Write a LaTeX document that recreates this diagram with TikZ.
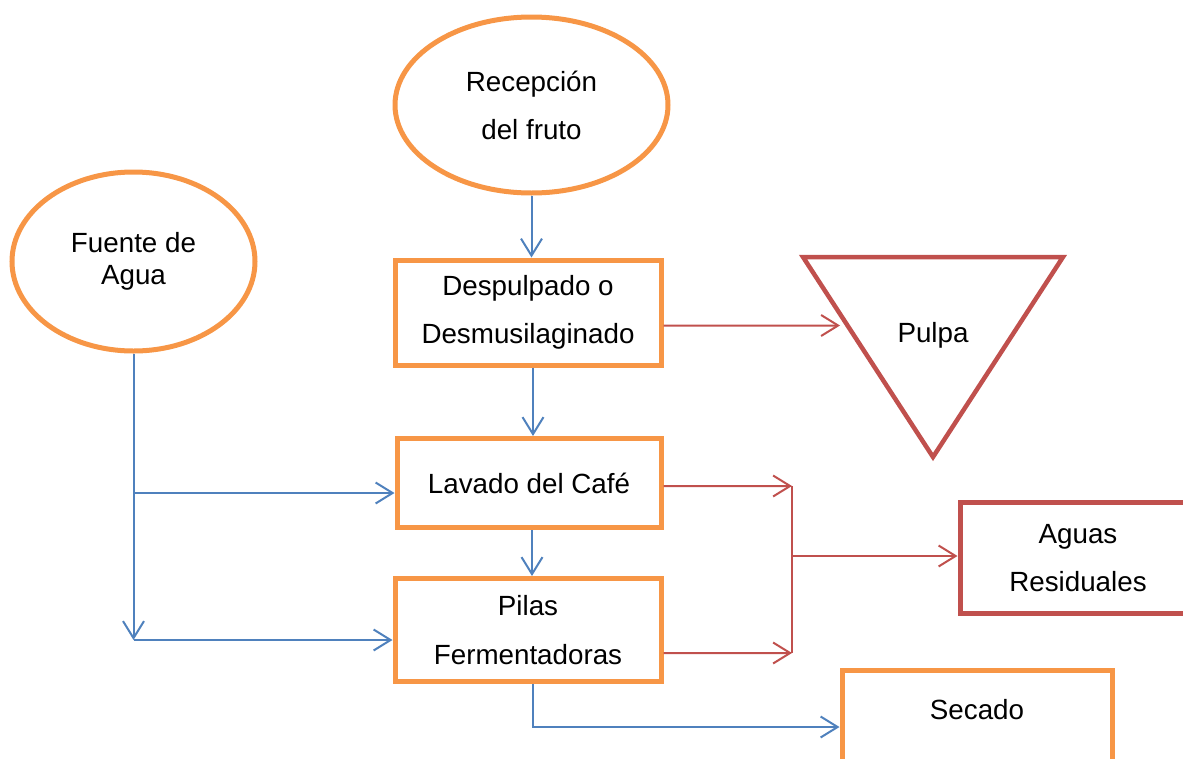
\documentclass[tikz,border=0pt]{standalone}
\usepackage{fontspec}
\setmainfont{Liberation Sans}
\usepackage{tikz}
\usetikzlibrary{shapes.geometric,arrows.meta}
\definecolor{naranja}{HTML}{F79646}
\definecolor{rojo}{HTML}{C0504D}
\definecolor{azul}{HTML}{4F81BD}
\tikzstyle{ovalo} = [ellipse,draw=naranja,line width=0.1cm,fill=white,inner sep=0pt,text centered,align=center]
\tikzstyle{caja} = [rectangle,draw=naranja,line width=0.1cm,fill=white,inner sep=0pt,text centered,align=center]
\tikzstyle{cajaroja} = [rectangle,draw=rojo,line width=0.1cm,fill=white,inner sep=0pt,text centered,align=center]
\tikzstyle{flechaazul} = [azul,line width=0.04cm,->,>={Straight Barb[length=0.34cm,width=0.42cm]}]
\tikzstyle{flecharoja} = [rojo,line width=0.04cm,->,>={Straight Barb[length=0.34cm,width=0.42cm]}]
\tikzstyle{linearoja} = [rojo,line width=0.04cm]

\begin{document}
\begin{tikzpicture}
\tikzstyle{every node}=[font=\fontsize{15.8}{27.4}\selectfont]
\clip (0,0) rectangle (23.66,-15.18);

\node (recepcion) [ovalo,minimum width=5.46cm,minimum height=3.52cm] at (10.63,-2.10) {Recepción\\del fruto};
\node (fuente) [ovalo,minimum width=4.86cm,minimum height=3.58cm,left of=recepcion,xshift=-6.96cm,yshift=-3.13cm,font=\fontsize{15.8}{18.2}\selectfont] {Fuente de\\Agua};

\node (despulpado) [caja,minimum width=5.32cm,minimum height=2.10cm,below of=recepcion,yshift=-3.15cm,xshift=-0.07cm] {Despulpado o\\Desmusilaginado};
\node (lavado) [caja,minimum width=5.28cm,minimum height=1.78cm,below of=despulpado,yshift=-2.41cm,xshift=0.02cm] {Lavado del Café};
\node (pilas) [caja,minimum width=5.32cm,minimum height=2.06cm,below of=lavado,yshift=-1.94cm,xshift=-0.02cm] {Pilas\\Fermentadoras};

\node (aguas) [cajaroja,minimum width=4.72cm,minimum height=2.22cm,right of=lavado,xshift=9.98cm,yshift=-1.50cm] {Aguas\\Residuales};
\node (secado) [caja,minimum width=5.40cm,minimum height=2.58cm,right of=pilas,xshift=7.98cm,yshift=-2.10cm] {};
\node (secadotxt) [above of=secado,yshift=-0.5cm] {Secado};

% triangulo de pulpa
\draw[rojo,line width=0.09cm,line join=miter] (16.06,-5.14) -- (21.26,-5.14) -- (18.66,-9.14) -- cycle;
\node (pulpa) [right of=despulpado,xshift=7.10cm,yshift=-0.45cm] {Pulpa};

\coordinate (pulpain) at (16.80,-6.51);
\coordinate (j1) at (15.84,-9.72);
\coordinate (j2) at (15.84,-13.06);
\coordinate (j3) at (15.84,-11.12);
\coordinate (cruce) at ([yshift=-0.2cm]fuente.south |- pilas.west);
\coordinate (cruce2) at ([yshift=-0.2cm]fuente.south |- lavado.west);

\draw[flechaazul] (recepcion.south) -- (recepcion.south |- despulpado.north);
\draw[flechaazul] ([xshift=0.1cm]despulpado.south) -- ([xshift=0.1cm]despulpado.south |- lavado.north);
\draw[flechaazul] ([xshift=0.06cm]lavado.south) -- ([xshift=0.06cm]lavado.south |- pilas.north);
\draw[flechaazul] ([xshift=0.1cm]pilas.south) |- ([yshift=0.16cm]secado.west);

\draw[flechaazul] (fuente.south) -- (cruce);
\draw[flechaazul] (cruce2) -- (cruce2 -| lavado.west);
\draw[flechaazul] (cruce) -- (cruce -| pilas.west);

\draw[flecharoja] ([yshift=-0.26cm]despulpado.east) -- (pulpain);
\draw[flecharoja] ([yshift=-0.06cm]lavado.east) -- (j1);
\draw[flecharoja] ([yshift=-0.46cm]pilas.east) -- (j2);
\draw[linearoja] (j1) -- (j2);
\draw[flecharoja] (j3) -- (j3 -| aguas.west);

\end{tikzpicture}
\end{document}
